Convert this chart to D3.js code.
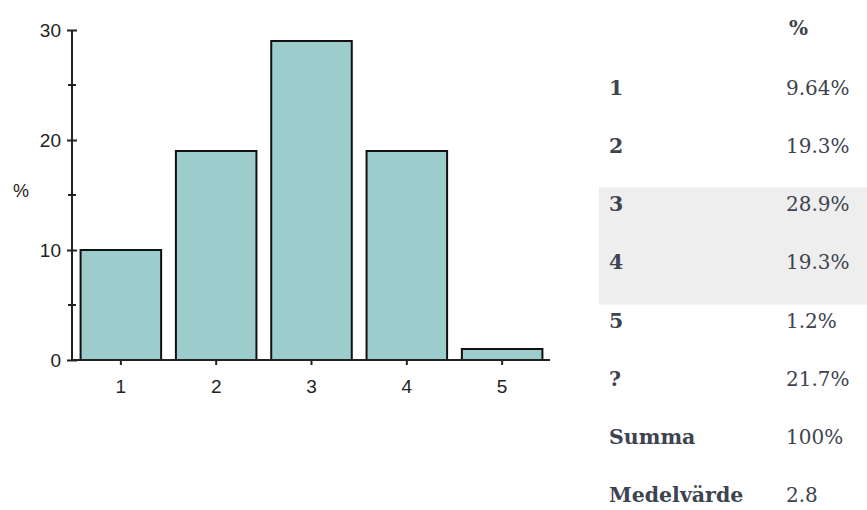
<!DOCTYPE html>
<html><head><meta charset="utf-8">
<script src="https://cdn.jsdelivr.net/npm/d3@7"></script>
<style>html,body{margin:0;padding:0;background:#fff;overflow:hidden}</style>
</head><body>
<svg id="c" width="867" height="510"></svg>
<script>
const categories = ["1","2","3","4","5"];
const barValues = [10, 19, 29, 19, 1];
const yTicks = [0, 10, 20, 30];
const yMinorTicks = [5, 15, 25];
const tableLabels = ["1","2","3","4","5","?","Summa","Medelvärde"];
const tableValues = ["9.64%","19.3%","28.9%","19.3%","1.2%","21.7%","100%","2.8"];
const tableHeader = "%";
const highlightedRows = ["3","4"];

const svg = d3.select("#c");
const x = d3.scaleBand().domain(categories).range([72, 551]).paddingInner(0.155).paddingOuter(0.09);
const y = d3.scaleLinear().domain([0, 30]).range([360, 30]);
const af = "Liberation Sans, Arial, sans-serif";

// bars
svg.append("g").selectAll("rect").data(barValues).join("rect")
  .attr("x", (d,i) => x(categories[i]))
  .attr("y", d => y(d))
  .attr("width", x.bandwidth())
  .attr("height", d => y(0) - y(d))
  .attr("fill", "#9ccccc")
  .attr("stroke", "#111")
  .attr("stroke-width", 2);

// y axis
const yAxis = svg.append("g").attr("transform", "translate(72,0)")
  .call(d3.axisLeft(y).tickValues(yTicks).tickSize(5).tickPadding(5).tickFormat(d3.format("d")));
yAxis.select(".domain").attr("stroke","#222").attr("stroke-width",2).attr("d","M0,30V360");
yAxis.selectAll(".tick line").attr("stroke","#222").attr("stroke-width",2).attr("x1",5).attr("x2",-5);
yAxis.selectAll(".tick text").style("font-family",af).style("font-size","19px").attr("fill","#222").attr("x",-11).attr("dy","0.36em");
svg.append("g").selectAll("line").data(yMinorTicks).join("line")
  .attr("x1",68).attr("x2",76).attr("y1",d=>y(d)).attr("y2",d=>y(d))
  .attr("stroke","#222").attr("stroke-width",2);

// x axis
const xAxis = svg.append("g").attr("transform","translate(0,360)")
  .call(d3.axisBottom(x).tickSize(5).tickPadding(12));
xAxis.select(".domain").attr("stroke","#222").attr("stroke-width",2).attr("d","M72,0H550");
xAxis.selectAll(".tick line").attr("stroke","#222").attr("stroke-width",2);
xAxis.selectAll(".tick text").style("font-family",af).style("font-size","19px").attr("fill","#222").attr("dy","0.85em");

svg.append("text").attr("x",21).attr("y",197).attr("text-anchor","middle")
  .style("font-family",af).style("font-size","18px").attr("fill","#222").text("%");

// table
const rowY = d3.scalePoint().domain(tableLabels).range([95, 502]);
const step = rowY.step();
svg.append("g").selectAll("rect").data(highlightedRows).join("rect")
  .attr("x",599).attr("width",268)
  .attr("y", d => rowY(d) - 24).attr("height", step + 1)
  .attr("fill","#eeeeee");

const tf = "DejaVu Serif, Liberation Serif, serif";
svg.append("text").attr("x",789).attr("y",35).attr("font-family",tf).attr("font-size",20)
  .attr("font-weight","bold").attr("fill","#3d4450").text(tableHeader);
svg.append("g").selectAll("text").data(tableLabels).join("text")
  .attr("x",609).attr("y",d=>rowY(d)).attr("font-family",tf).attr("font-size",20.5)
  .attr("font-weight","bold").attr("fill","#3d4450").text(d=>d);
svg.append("g").selectAll("text").data(tableValues).join("text")
  .attr("x",786).attr("y",(d,i)=>rowY(tableLabels[i])).attr("font-family",tf).attr("font-size",20)
  .attr("fill","#3d4450").text(d=>d);
</script>
</body></html>
